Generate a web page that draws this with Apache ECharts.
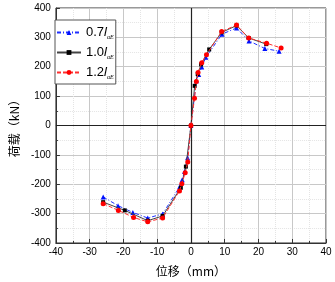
<!DOCTYPE html>
<html>
<head>
<meta charset="utf-8">
<script src="https://cdn.jsdelivr.net/npm/echarts@6/dist/echarts.min.js"></script>
<style>
html, body { margin: 0; padding: 0; background: #fff; }
#main { width: 335px; height: 282px; }
</style>
</head>
<body>
<div id="main"></div>
<script>
// 数据：位移(mm) / 荷载(kN)
var names = ['0.7', '1.0', '1.2'];
var disp07 = [-26.0, -21.6, -17.2, -12.8, -8.4, -3.3, -2.6, -1.9, -1.0, 0, 1.6, 2.3, 3.2, 4.4, 9.2, 13.5, 17.2, 21.9, 26.1];
var load07 = [-243, -273, -296, -315, -301, -208, -185, -157, -110, 0, 152, 174, 199, 232, 311, 332, 288, 262, 253];
var disp10 = [-26.0, -19.6, -12.8, -8.4, -3.0, -1.5, 0, 1.1, 2.0, 3.0, 5.4, 9.1, 13.5, 17.1, 22.3];
var load10 = [-261, -289, -324, -308, -212, -140, 0, 135, 175, 208, 259, 317, 340, 298, 277];
var disp12 = [-26.0, -21.5, -17.0, -12.8, -8.4, -3.4, -2.7, -1.7, -0.95, 0, 1.05, 1.6, 2.1, 3.2, 4.6, 9.1, 13.5, 17.1, 22.4, 26.7];
var load12 = [-266, -289, -313, -328, -315, -223, -198, -161, -124, 0, 93, 150, 180, 214, 241, 320, 342, 298, 280, 264];

function pairs(xs, ys) {
    var out = [];
    for (var i = 0; i < xs.length; i++) out.push([xs[i], ys[i]]);
    return out;
}

var chart = echarts.init(document.getElementById('main'), null, { renderer: 'canvas' });

var axisFont = { color: '#000', fontSize: 10, fontFamily: 'Arial, Liberation Sans, sans-serif' };

var option = {
    animation: false,
    backgroundColor: '#fff',
    grid: {
        left: 46, right: 9, top: 8, bottom: 36,
        show: true, borderColor: '#333', borderWidth: 1
    },
    legend: {
        orient: 'vertical',
        left: 55, top: 20,
        data: names,
        itemWidth: 24, itemHeight: 6, itemGap: 6,
        padding: [6, 2, 4, 1],
        borderColor: '#555', borderWidth: 1,
        backgroundColor: '#fff',
        formatter: function (n) { return '{a|' + n + '}{i|l}{s|αE}'; },
        textStyle: {
            color: '#000',
            rich: {
                a: { fontSize: 13, fontFamily: 'Arial, Liberation Sans, sans-serif', color: '#000' },
                i: { fontSize: 13, fontStyle: 'italic', fontFamily: 'Arial, Liberation Sans, sans-serif', color: '#000' },
                s: { fontSize: 6, fontStyle: 'italic', fontFamily: 'Times New Roman, Liberation Serif, serif', color: '#000', padding: [9, 0, 0, 0] }
            }
        }
    },
    xAxis: {
        type: 'value', min: -40, max: 40, interval: 10,
        name: '位移（mm）', nameLocation: 'middle', nameGap: 22,
        nameTextStyle: { fontSize: 12, color: '#000', fontFamily: 'Noto Sans CJK SC' },
        axisLine: { onZero: false, lineStyle: { color: '#333' } },
        axisTick: { inside: true, length: 4, lineStyle: { color: '#333' } },
        minorTick: { show: true, splitNumber: 2, length: 2, lineStyle: { color: '#333' } },
        axisLabel: Object.assign({ margin: 4 }, axisFont),
        splitLine: { show: true, lineStyle: { color: '#c8c8c8', width: 1 } },
        minorSplitLine: { show: true, lineStyle: { color: '#e4e4e4', type: 'dotted' } }
    },
    yAxis: {
        type: 'value', min: -400, max: 400, interval: 100,
        name: '荷载（kN）', nameLocation: 'middle', nameGap: 23,
        nameTextStyle: { fontSize: 12, color: '#000', fontFamily: 'Noto Sans CJK SC' },
        axisLine: { show: true, onZero: false, lineStyle: { color: '#333' } },
        axisTick: { inside: true, length: 4, lineStyle: { color: '#333' } },
        minorTick: { show: true, splitNumber: 2, length: 2, lineStyle: { color: '#333' } },
        axisLabel: Object.assign({ margin: 5 }, axisFont),
        splitLine: { show: true, lineStyle: { color: '#c8c8c8', width: 1 } },
        minorSplitLine: { show: true, lineStyle: { color: '#e4e4e4', type: 'dotted' } }
    },
    series: [{
        name: '0.7',
        type: 'line',
        data: pairs(disp07, load07),
        symbol: 'triangle', symbolSize: 5,
        lineStyle: { color: '#2030ff', width: 1, type: [4, 2, 1, 2] },
        itemStyle: { color: '#0010ff' },
        z: 3,
        markLine: {
            silent: true, symbol: 'none', label: { show: false },
            lineStyle: { color: '#222', width: 1.2, type: 'solid' },
            data: [{ xAxis: 0 }, { yAxis: 0 }]
        }
    }, {
        name: '1.0',
        type: 'line',
        data: pairs(disp10, load10),
        symbol: 'rect', symbolSize: 4,
        lineStyle: { color: '#444', width: 1, type: 'solid' },
        itemStyle: { color: '#000' },
        z: 4
    }, {
        name: '1.2',
        type: 'line',
        data: pairs(disp12, load12),
        symbol: 'circle', symbolSize: 5,
        lineStyle: { color: '#ff3030', width: 1, type: [4, 2] },
        itemStyle: { color: '#ff0000' },
        z: 5
    }]
};

chart.setOption(option);
</script>
</body>
</html>
